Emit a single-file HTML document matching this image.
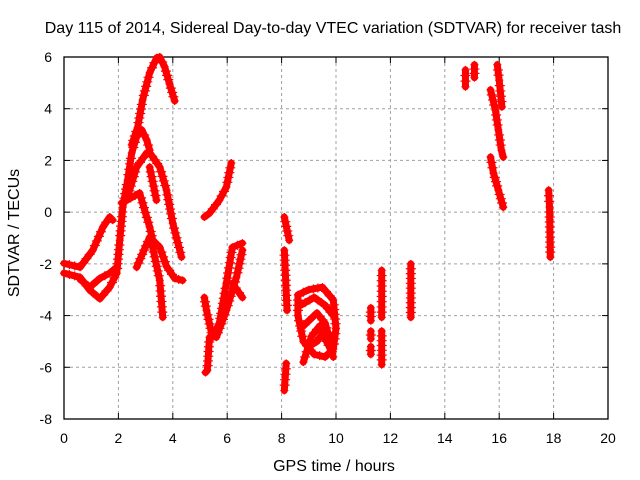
<!DOCTYPE html>
<html><head><meta charset="utf-8">
<style>
body{margin:0;background:#fff;}
svg{display:block;font-family:"Liberation Sans",sans-serif;}
</style></head>
<body>
<svg id="chart" width="640" height="480" viewBox="0 0 640 480">
<text x="333" y="33" text-anchor="middle" font-size="16" fill="#000">Day 115 of 2014, Sidereal Day-to-day VTEC variation (SDTVAR) for receiver tash</text>
<text x="334" y="471" text-anchor="middle" font-size="16" fill="#000">GPS time / hours</text>
<text transform="translate(19,233) rotate(-90)" text-anchor="middle" font-size="16" fill="#000">SDTVAR / TECUs</text>
<g id="grid"></g>
<g id="axes"></g>
<g id="marks"></g>
</svg>
<script>
const xTicks=[0,2,4,6,8,10,12,14,16,18,20];
const yTicks=[-8,-6,-4,-2,0,2,4,6];
// tracks of (hour, TECU) values
const trackTimes=[
[0,0.59,1.06,1.43,1.68,1.79],
[0,0.59,0.95,1.32,1.68,1.94,2.05,2.16,2.34,2.49,2.67,2.86,3.04,3.15],
[0.59,0.95,1.32,1.68,1.94],
[2.49,2.71,2.89,3.15,3.41,3.52,3.7,3.88,4.07],
[2.3,2.67,3.04,3.15,3.52,3.77,4.0,4.32],
[3.15,3.4],
[2.12,2.78,3.15,3.26,3.52,3.77,4.07,4.36],
[2.67,3.15,3.26,3.52,3.63],
[5.16,5.35,5.71,5.97,6.15],
[5.16,5.24,5.46,5.71,5.97,6.19,6.56],
[5.6,5.97,6.34,6.56],
[5.35,5.27,5.2],
[6.19,6.56],
[8.1,8.28],
[8.1,8.2],
[8.17,8.1],
[8.6,9.0,9.5,9.9,10.0,9.9,9.6,9.2,8.8,8.6,8.6],
[8.7,9.0,9.3,9.6,9.8],
[8.8,9.1,9.4,9.7,9.9],
[8.7,9.2,9.6,9.9],
[9.0,9.3,9.5,9.8],
[11.28,11.28],[11.28,11.28],[11.28,11.28],
[11.68,11.68],[11.68,11.68],
[12.75,12.75],
[14.76,14.76],[15.09,15.09],
[15.93,16.0,16.1],
[15.68,15.86,15.97,16.08,16.15],
[15.68,15.79,15.97,16.15],
[17.82,17.85,17.88]
];
const trackValues=[
[-1.98,-2.13,-1.47,-0.58,-0.19,-0.31],
[-2.36,-2.52,-3.02,-3.35,-2.9,-2.36,-1.09,0.19,1.24,2.29,2.91,3.18,2.79,2.4],
[-2.6,-2.9,-2.56,-2.36,-2.13],
[2.6,3.29,4.34,5.39,5.97,6.0,5.62,4.96,4.3],
[0.46,1.74,2.29,2.3,1.74,0.85,-0.43,-1.74],
[1.74,0.46],
[0.35,0.74,-0.58,-1.08,-1.36,-2.1,-2.56,-2.64],
[-2.13,-0.97,-1.36,-2.64,-4.07],
[-0.19,-0.04,0.46,0.97,1.9],
[-3.3,-3.8,-4.84,-4.3,-2.75,-1.36,-1.2],
[-4.84,-3.8,-2.52,-1.47],
[-4.84,-6.12,-6.2],
[-2.75,-3.3],
[-0.19,-1.09],
[-1.47,-3.8],
[-5.85,-6.9],
[-3.2,-3.0,-2.9,-3.4,-4.5,-5.3,-5.6,-5.5,-5.0,-4.0,-3.2],
[-4.5,-4.2,-3.9,-4.3,-5.0],
[-5.8,-4.8,-4.4,-4.8,-5.6],
[-3.6,-3.3,-3.6,-4.0],
[-5.2,-5.0,-4.7,-5.3],
[-3.7,-4.2],[-4.6,-4.9],[-5.2,-5.5],
[-2.25,-4.07],[-4.6,-5.9],
[-2.0,-4.07],
[5.5,4.85],[5.7,5.2],
[5.7,5.1,4.07],
[4.73,3.95,3.18,2.4,2.13],
[2.13,1.51,0.85,0.19],
[0.85,0.2,-1.74]
];
const X0=64,X1=608,Y0=57,Y1=419;
function xs(v){return X0+(v-0)/(20-0)*(X1-X0);}
function ys(v){return Y0+(6-v)/(6-(-8))*(Y1-Y0);}
const NS="http://www.w3.org/2000/svg";
function mk(tag,attrs,parent){const e=document.createElementNS(NS,tag);for(const k in attrs)e.setAttribute(k,attrs[k]);parent.appendChild(e);return e;}
const grid=document.getElementById('grid'),axes=document.getElementById('axes'),marks=document.getElementById('marks');
xTicks.forEach(t=>{
 const x=xs(t);
 if(t>0&&t<20){const g=mk('line',{x1:x,y1:Y0,x2:x,y2:Y1,stroke:'#a0a0a0','stroke-width':1,'stroke-dasharray':'3,3'},grid);
 
 }
 const tk=mk('line',{x1:x,y1:Y1,x2:x,y2:Y1-6,stroke:'#000'},axes);
 
 
 const tk2=mk('line',{x1:x,y1:Y0,x2:x,y2:Y0+6,stroke:'#000'},axes);
 
 
 const l=mk('text',{x:x,y:443,'text-anchor':'middle','font-size':'14','fill':'#000'},axes);
 l.textContent=t;
 
 
});
yTicks.forEach(t=>{
 const y=ys(t);
 if(t>-8&&t<6){const g=mk('line',{x1:X0,y1:y,x2:X1,y2:y,stroke:'#a0a0a0','stroke-width':1,'stroke-dasharray':'3,3'},grid);
 
 }
 const tk=mk('line',{x1:X0,y1:y,x2:X0+6,y2:y,stroke:'#000'},axes);
 
 
 const tk2=mk('line',{x1:X1,y1:y,x2:X1-6,y2:y,stroke:'#000'},axes);
 
 
 const l=mk('text',{x:52,y:y+5,'text-anchor':'end','font-size':'14','fill':'#000'},axes);
 l.textContent=t;
 
 
});
const fr=mk('rect',{x:X0,y:Y0,width:X1-X0,height:Y1-Y0,fill:'none',stroke:'#000','stroke-width':1.3},axes);


trackTimes.forEach((tt,i)=>{
 const vv=trackValues[i];
 const pts=tt.map((t,j)=>xs(t)+','+ys(vv[j])).join(' ');
 const pl=mk('polyline',{points:pts,fill:'none',stroke:'#ff0000','stroke-width':7,'stroke-linejoin':'round','stroke-linecap':'round'},marks);
 
 
 for(let j=0;j<tt.length;j++){
  const x=xs(tt[j]),y=ys(vv[j]);
  const p=mk('path',{d:`M${x-4},${y}h8M${x},${y-4}v8`,stroke:'#ff0000','stroke-width':1.2},marks);
  
  
  if(j<tt.length-1){
   const x2=xs(tt[j+1]),y2=ys(vv[j+1]);
   const n=Math.max(1,Math.round(Math.hypot(x2-x,y2-y)/5));
   let d='';
   for(let k=1;k<n;k++){const cx=x+(x2-x)*k/n,cy=y+(y2-y)*k/n;d+=`M${cx-5},${cy}h10M${cx},${cy-4.5}v9`;}
   if(d){const q=mk('path',{d:d,stroke:'#ff0000','stroke-width':1.2},marks);
   
   }
  }
 }
});
</script>
</body></html>
